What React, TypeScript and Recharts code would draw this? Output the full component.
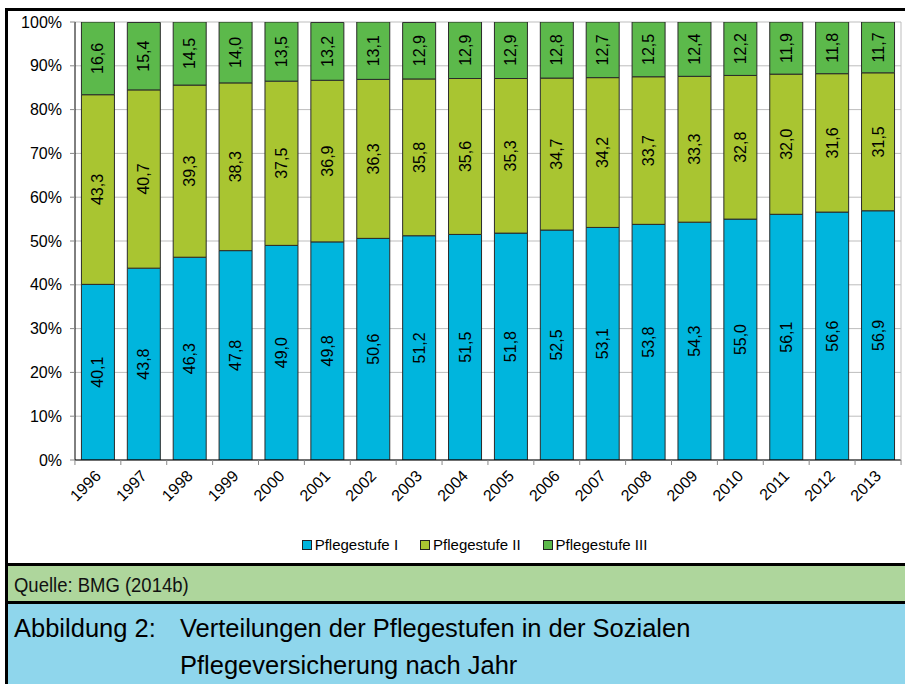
import React from 'react';
import { BarChart, Bar, XAxis, YAxis, CartesianGrid, LabelList } from 'recharts';

const years = ['1996', '1997', '1998', '1999', '2000', '2001', '2002', '2003', '2004', '2005', '2006', '2007', '2008', '2009', '2010', '2011', '2012', '2013'];
const stufe1 = [40.1, 43.8, 46.3, 47.8, 49.0, 49.8, 50.6, 51.2, 51.5, 51.8, 52.5, 53.1, 53.8, 54.3, 55.0, 56.1, 56.6, 56.9];
const stufe2 = [43.3, 40.7, 39.3, 38.3, 37.5, 36.9, 36.3, 35.8, 35.6, 35.3, 34.7, 34.2, 33.7, 33.3, 32.8, 32.0, 31.6, 31.5];
const stufe3 = [16.6, 15.4, 14.5, 14.0, 13.5, 13.2, 13.1, 12.9, 12.9, 12.9, 12.8, 12.7, 12.5, 12.4, 12.2, 11.9, 11.8, 11.7];
const yTicks = [0, 10, 20, 30, 40, 50, 60, 70, 80, 90, 100];

const series = [
  { key: 's1', name: 'Pflegestufe I', color: '#00b5dd' },
  { key: 's2', name: 'Pflegestufe II', color: '#a9c531' },
  { key: 's3', name: 'Pflegestufe III', color: '#5cb94b' },
];

const data = years.map((y, i) => ({ year: y, s1: stufe1[i], s2: stufe2[i], s3: stufe3[i] }));

const CHART_W = 905;
const CHART_H = 565;
const Y_W = 75;
const RIGHT = 2;
const halfBand = (CHART_W - Y_W - RIGHT) / years.length / 2;

const font = 'Arial, "Liberation Sans", sans-serif';

const fmt = (v: number) => v.toFixed(1).replace('.', ',');

const VerticalLabel = (props: any) => {
  const { x, y, width, height, value } = props;
  const cx = Number(x) + Number(width) / 2;
  const cy = Number(y) + Number(height) / 2;
  return (
    <text
      x={cx}
      y={cy}
      transform={`rotate(-90 ${cx} ${cy})`}
      textAnchor="middle"
      dominantBaseline="central"
      fontSize={16}
      fontFamily={font}
      fill="#000"
    >
      {fmt(Number(value))}
    </text>
  );
};

const YearTick = (props: any) => {
  const { x, y, payload } = props;
  return (
    <g>
      <line x1={x - halfBand} x2={x - halfBand} y1={y - 8} y2={y - 3} stroke="#888" />
      {payload.index === years.length - 1 && (
        <line x1={x + halfBand} x2={x + halfBand} y1={y - 8} y2={y - 3} stroke="#888" />
      )}
      <text
        x={x + 4}
        y={y + 9}
        transform={`rotate(-45 ${x + 4} ${y + 9})`}
        textAnchor="end"
        fontSize={16}
        fontFamily={font}
        fill="#000"
      >
        {payload.value}
      </text>
    </g>
  );
};

const LegendRow = () => (
  <div
    style={{
      position: 'absolute',
      top: 536,
      left: 0,
      width: CHART_W,
      display: 'flex',
      justifyContent: 'center',
      paddingLeft: 66,
      boxSizing: 'border-box',
      fontFamily: font,
      fontSize: 15,
      color: '#000',
    }}
  >
    {series.map((s) => (
      <div key={s.key} style={{ display: 'flex', alignItems: 'center', marginRight: 22 }}>
        <span
          style={{
            display: 'inline-block',
            width: 8,
            height: 8,
            background: s.color,
            border: '1px solid #222',
            marginRight: 3,
          }}
        />
        <span>{s.name}</span>
      </div>
    ))}
  </div>
);

export default function App() {
  return (
    <div
      style={{
        position: 'absolute',
        left: 0,
        top: 0,
        width: 905,
        height: 684,
        overflow: 'hidden',
        background: '#fff',
      }}
    >
      <div
        style={{
          position: 'absolute',
          left: 5,
          top: 8,
          width: 920,
          height: 700,
          borderLeft: '3px solid #000',
          borderTop: '3px solid #000',
        }}
      />
      <div style={{ position: 'absolute', left: 0, top: 0 }}>
        <BarChart
          width={CHART_W}
          height={CHART_H}
          data={data}
          margin={{ top: 22, right: RIGHT, left: 0, bottom: 0 }}
          barCategoryGap="14%"
        >
          <CartesianGrid vertical={false} stroke="#bdbdbd" />
          <XAxis
            dataKey="year"
            height={CHART_H - 460}
            tickLine={false}
            axisLine={{ stroke: '#000' }}
            tick={<YearTick />}
            interval={0}
          />
          <YAxis
            width={Y_W}
            domain={[0, 100]}
            ticks={yTicks}
            allowDataOverflow
            tickFormatter={(v: number) => `${v}%`}
            tick={{ fontSize: 16, fontFamily: font, fill: '#000' }}
            tickLine={{ stroke: '#888' }}
            tickSize={5}
            tickMargin={8}
            axisLine={{ stroke: '#000' }}
          />
          <YAxis
            yAxisId="r"
            orientation="right"
            width={RIGHT}
            domain={[0, 100]}
            tick={false}
            tickLine={false}
            axisLine={{ stroke: '#bdbdbd' }}
          />
          {series.map((s) => (
            <Bar
              key={s.key}
              dataKey={s.key}
              name={s.name}
              stackId="a"
              fill={s.color}
              stroke="#2a2a2a"
              strokeWidth={1}
              isAnimationActive={false}
            >
              <LabelList dataKey={s.key} content={<VerticalLabel />} />
            </Bar>
          ))}
        </BarChart>
      </div>
      <LegendRow />
      <div
        style={{
          position: 'absolute',
          left: 5,
          top: 563,
          width: 920,
          height: 37,
          background: '#aed69c',
          borderTop: '3px solid #000',
          borderLeft: '3px solid #000',
          color: '#111',
          overflow: 'hidden',
        }}
      >
        <div
          style={{
            position: 'absolute',
            left: 6,
            top: 0,
            lineHeight: '37px',
            fontFamily: '"Liberation Sans Narrow", "Arial Narrow", Arial, sans-serif',
            fontSize: 21,
            transform: 'scaleX(0.88)',
            transformOrigin: 'left center',
            whiteSpace: 'nowrap',
          }}
        >
          Quelle: BMG (2014b)
        </div>
      </div>
      <div
        style={{
          position: 'absolute',
          left: 5,
          top: 601,
          width: 920,
          height: 90,
          background: '#8fd6ec',
          borderTop: '3px solid #000',
          borderLeft: '3px solid #000',
          fontFamily: font,
          fontSize: 25.5,
          color: '#000',
        }}
      >
        <div style={{ position: 'absolute', left: 6, top: 6, lineHeight: '37px', whiteSpace: 'nowrap' }}>Abbildung 2:</div>
        <div style={{ position: 'absolute', left: 172, top: 6, lineHeight: '37px', whiteSpace: 'nowrap' }}>
          Verteilungen der Pflegestufen in der Sozialen
          <br />
          Pflegeversicherung nach Jahr
        </div>
      </div>
    </div>
  );
}
